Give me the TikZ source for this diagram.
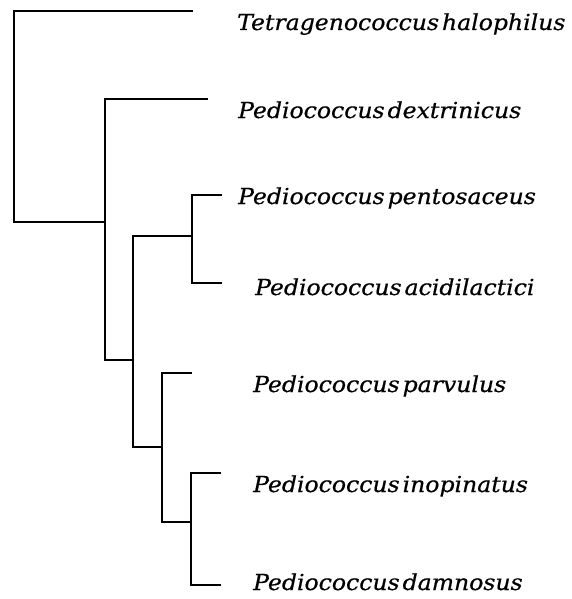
\documentclass[tikz,border=0pt]{standalone}
\usepackage{fontspec}
\setmainfont[WordSpace=0.4,FakeStretch=1.07,ItalicFeatures={FakeBold=0.6}]{DejaVu Serif}
\begin{document}
\begin{tikzpicture}[x=1pt,y=-1pt,
  lbl/.style={anchor=base west, inner sep=0pt, font=\fontsize{22}{26}\selectfont\itshape},
  branch/.style={draw, line width=1.6pt, line join=miter}]
\useasboundingbox (0,0) rectangle (572,599);
% internal nodes and tips
\coordinate (R) at (14,222);
\coordinate (A) at (105,222);
\coordinate (B) at (133,360);
\coordinate (C) at (192,236);
\coordinate (D) at (162,447);
\coordinate (E) at (191,522);
\coordinate (tT) at (193,11);
\coordinate (tD) at (208,99);
\coordinate (tPe) at (222,195);
\coordinate (tAc) at (222,283);
\coordinate (tPa) at (192,373);
\coordinate (tIn) at (221,473);
\coordinate (tDa) at (221,585);
% branches
\path[branch] (tT) -| (R) |- (A);
\path[branch] (tD) -| (A) |- (B);
\path[branch] (C) -| (B) |- (D);
\path[branch] (tPe) -| (C) |- (tAc);
\path[branch] (tPa) -| (D) |- (E);
\path[branch] (tIn) -| (E) |- (tDa);
% labels
\node[lbl] (LT) at (237,30) {Tetragenococcus halophilus};
\node[lbl] (LD) at (238,118) {Pediococcus dextrinicus};
\node[lbl] (LPe) at (238,204) {Pediococcus pentosaceus};
\node[lbl] (LAc) at (255,295) {Pediococcus acidilactici};
\node[lbl] (LPa) at (253,392) {Pediococcus parvulus};
\node[lbl] (LIn) at (253,492) {Pediococcus inopinatus};
\node[lbl] (LDa) at (253,590) {Pediococcus damnosus};
\end{tikzpicture}
\end{document}
